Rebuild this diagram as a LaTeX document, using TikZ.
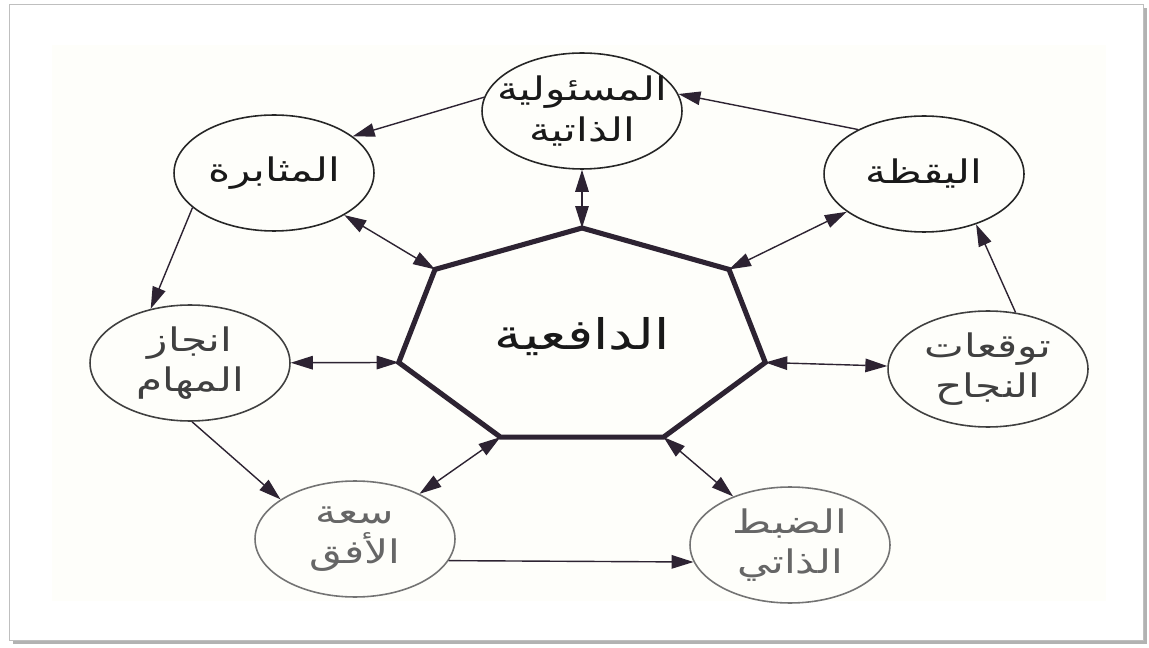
\documentclass[tikz,border=0pt]{standalone}
\usepackage{fontspec}
\usetikzlibrary{shapes.geometric,arrows.meta,calc}
\TeXXeTstate=1
\newfontfamily\arabicfont[Script=Arabic,FakeStretch=1.3]{DejaVu Sans}
\newcommand{\rtl}[1]{\beginR#1\endR}
\definecolor{inkcol}{RGB}{45,35,50}
\definecolor{papercol}{RGB}{254,254,250}

\tikzset{
  circ/.style={ellipse,draw=black!85,line width=0.9pt,minimum width=4cm,
    minimum height=2.32cm,inner sep=-1cm,align=center,text=black!90,
    font=\arabicfont\fontsize{18.5}{23}\selectfont},
  mid/.style={draw=black!75,text=black!75},
  faded/.style={draw=black!55,text=black!60},
  link/.style={draw=inkcol,line width=0.8pt},
}

\begin{document}
\begin{tikzpicture}[x=0.02cm,y=-0.02cm,>={Triangle[length=0.44cm,width=0.27cm]}]

      % frame
      \useasboundingbox (0,0) rectangle (1149,648);
      \fill[white] (0,0) rectangle (1149,648);
      \fill[black!30] (13,8) rectangle (1147,644);
      \filldraw[fill=white,draw=black!25,line width=0.5pt] (9,4) rectangle (1143,640);
      \fill[papercol] (52,45) rectangle (1106,601);

      % heptagon
      \foreach \i in {1,...,7}
        \coordinate (v\i) at ($(582,338)+({-90+(\i-1)*360/7}:188 and 110)$);
      \draw[inkcol,line width=2.9pt,line join=miter]
        (v1) -- (v2) -- (v3) -- (v4) -- (v5) -- (v6) -- (v7) -- cycle;
      \node[font=\arabicfont\fontsize{24}{28}\selectfont,text=black!90] (0) at (582,337) {\rtl{الدافعية}};

      \begin{scope}[every node/.style={circ}]
        \node (1) at (582,111) {\rtl{المسئولية}\\\rtl{الذاتية}};
        \node (2) at (274,173) {\rtl{المثابرة}};
        \node[mid] (3) at (190,363) {\rtl{انجاز}\\\rtl{المهام}};
        \node[faded] (4) at (355,539) {\rtl{سعة}\\\rtl{الأفق}};
        \node[faded] (5) at (790,545) {\rtl{الضبط}\\\rtl{الذاتي}};
        \node[mid] (6) at (988,369) {\rtl{توقعات}\\\rtl{النجاح}};
        \node (7) at (924,174) {\rtl{اليقظة}};
      \end{scope}

      \begin{scope}[every edge/.style={link}]
        \path (7.146) edge[->] (1.10);
        \path (1.172) edge[->] (2.25);
        \path (2.203) edge[->] (3.126);
        \path (3.272) edge[->] (4.152);
        \path (4.347) edge[->] (5.190);
        \path (6.64)  edge[->] (7.316);
        \path (1) edge[<->] (v1);
        \path (7) edge[<->] (v2);
        \path (6) edge[<->] (v3);
        \path (5) edge[<->] (v4);
        \path (4) edge[<->] (v5);
        \path (3) edge[<->] (v6);
        \path (2) edge[<->] (v7);
      \end{scope}

    \end{tikzpicture}
\end{document}
